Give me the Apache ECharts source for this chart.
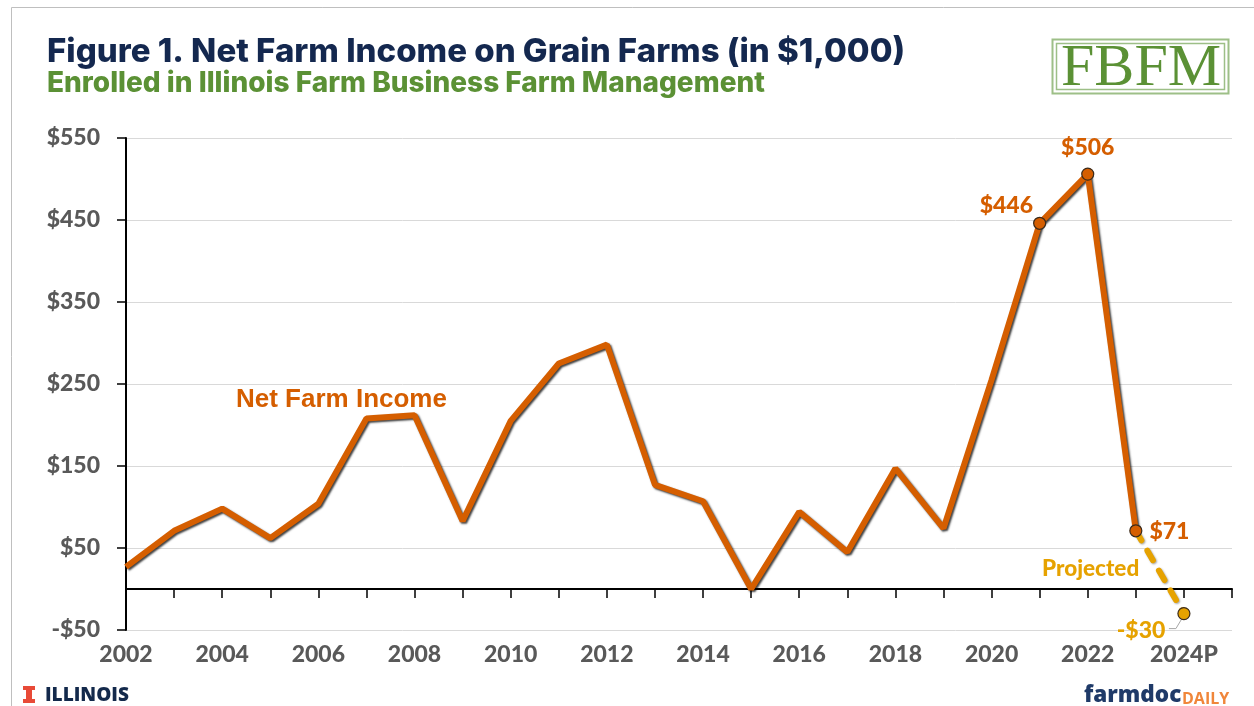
<!DOCTYPE html>
<html>
<head>
<meta charset="utf-8">
<title>Net Farm Income on Grain Farms</title>
<script src="https://cdn.jsdelivr.net/npm/echarts@6/dist/echarts.min.js"></script>
<style>
  html, body { margin: 0; padding: 0; background: #fff; }
  #chart { width: 1254px; height: 706px; }
</style>
</head>
<body>
<div id="chart"></div>
<script>
const years = ["2002","2003","2004","2005","2006","2007","2008","2009","2010","2011","2012","2013","2014","2015","2016","2017","2018","2019","2020","2021","2022","2023","2024P",""];
const netFarmIncome = [27,71,98,62,104,208,212,83,205,275,298,127,107,0,94,45,147,74,255,446,506,71,null,null];
const projected = [null,null,null,null,null,null,null,null,null,null,null,null,null,null,null,null,null,null,null,null,null,71,-30,null];
const yTicks = { min: -50, max: 550, step: 100 };

const ORANGE = "#d55e00";
const GOLD = "#e6a200";
const GREY = "#595959";
const labelFont = "Lato";
const labelWeight = 900;

// only the last few points get a marker and a label
const incomeLabels = {
  2021: { text: "$446", position: "left", offset: [5, -18] },
  2022: { text: "$506", position: "top", offset: [0, -3] },
  2023: { text: "$71", position: "right", offset: [2, 1] },
};

const incomeData = netFarmIncome.map(function (v, i) {
  const l = incomeLabels[years[i]];
  if (!l) return v;
  return {
    value: v,
    symbol: "circle",
    symbolSize: 12,
    itemStyle: { color: ORANGE, borderColor: "#3a2a1a", borderWidth: 1.2 },
    label: {
      show: true,
      formatter: l.text,
      position: l.position,
      offset: l.offset,
      color: ORANGE,
      fontFamily: labelFont,
      fontWeight: labelWeight,
      fontSize: 23,
    },
  };
});

const projectedData = projected.map(function (v, i) {
  if (years[i] !== "2024P") return v;
  return {
    value: v,
    symbol: "circle",
    symbolSize: 12,
    itemStyle: { color: GOLD, borderColor: "#3a2a1a", borderWidth: 1.2 },
    label: {
      show: true,
      formatter: "-$30",
      position: "left",
      offset: [-7, 17],
      color: GOLD,
      fontFamily: labelFont,
      fontWeight: labelWeight,
      fontSize: 23,
    },
  };
});

const chart = echarts.init(document.getElementById("chart"));
chart.setOption({
  animation: false,
  backgroundColor: "#fff",
  title: [
    {
      text: "Figure 1. Net Farm Income on Grain Farms (in $1,000)",
      left: 42,
      top: 31,
      textStyle: { color: "#14284f", fontFamily: "Inter", fontWeight: 800, fontSize: 33 },
    },
    {
      text: "Enrolled in Illinois Farm Business Farm Management",
      left: 42,
      top: 65,
      textStyle: { color: "#5b9135", fontFamily: "Inter", fontWeight: 800, fontSize: 28 },
    },
  ],
  grid: { left: 126, right: 22, top: 138, bottom: 76 },
  xAxis: {
    type: "category",
    data: years,
    boundaryGap: false,
    axisLine: { onZero: true, lineStyle: { color: "#000", width: 2 } },
    axisTick: { alignWithLabel: true, interval: 0, length: 9, lineStyle: { color: "#000", width: 1.5 } },
    axisLabel: { interval: 1, margin: 13, color: GREY, fontFamily: labelFont, fontWeight: labelWeight, fontSize: 23 },
    splitLine: { show: false },
  },
  yAxis: {
    type: "value",
    min: yTicks.min,
    max: yTicks.max,
    interval: yTicks.step,
    axisLine: { show: true, onZero: false, lineStyle: { color: "#000", width: 2 } },
    axisTick: { show: true, length: 9, lineStyle: { color: "#000", width: 1.5 } },
    axisLabel: {
      margin: 26,
      color: GREY,
      fontFamily: labelFont,
      fontWeight: labelWeight,
      fontSize: 23,
      formatter: function (v) {
        return v < 0 ? "-$" + Math.abs(v) : "$" + v;
      },
    },
    splitLine: { show: true, lineStyle: { color: "#d9d9d9", width: 1 } },
  },
  series: [
    {
      name: "Projected",
      type: "line",
      data: projectedData,
      symbol: "none",
      connectNulls: false,
      lineStyle: {
        color: GOLD,
        width: 6,
        type: [11, 12],
        cap: "round",
        shadowColor: "rgba(0,0,0,0.35)",
        shadowBlur: 2,
        shadowOffsetX: 1,
        shadowOffsetY: 1,
      },
      z: 2,
    },
    {
      name: "Net Farm Income",
      type: "line",
      data: incomeData,
      symbol: "none",
      lineStyle: {
        color: ORANGE,
        width: 6,
        shadowColor: "rgba(0,0,0,0.75)",
        shadowBlur: 2,
        shadowOffsetX: 1.5,
        shadowOffsetY: 1.5,
      },
      z: 3,
    },
  ],
  graphic: [
    // frame round the figure
    { type: "line", shape: { x1: 11.5, y1: 7.5, x2: 1254, y2: 7.5 }, style: { stroke: "#bfbfbf", lineWidth: 1 } },
    { type: "line", shape: { x1: 11.5, y1: 7.5, x2: 11.5, y2: 706 }, style: { stroke: "#bfbfbf", lineWidth: 1 } },
    // annotations
    { type: "text", left: 236, top: 387, style: { text: "Net Farm Income", fill: ORANGE, font: "bold 26px 'Liberation Sans'" } },
    { type: "text", left: 1042, top: 557, style: { text: "Projected", fill: GOLD, font: "900 22.5px Lato" } },
    // FBFM logo
    { type: "rect", shape: { x: 1052.5, y: 39.5, width: 176, height: 54 }, style: { fill: "#fff", stroke: "#9dbf87", lineWidth: 2 } },
    { type: "rect", shape: { x: 1056.5, y: 43.5, width: 168, height: 46 }, style: { fill: "none", stroke: "#9dbf87", lineWidth: 1.5 } },
    { type: "text", left: 1061, top: 39, style: { text: "FBFM", fill: "#5b9135", font: "60px 'Liberation Serif'" } },
    // Illinois mark
    { type: "rect", shape: { x: 23, y: 686, width: 12, height: 4 }, style: { fill: "#e84a37" } },
    { type: "rect", shape: { x: 26, y: 689, width: 6, height: 11 }, style: { fill: "#e84a37" } },
    { type: "rect", shape: { x: 23, y: 699, width: 12, height: 4 }, style: { fill: "#e84a37" } },
    { type: "text", left: 45, top: 686, style: { text: "ILLINOIS", fill: "#13294b", font: "800 19px 'Open Sans'" } },
    // farmdoc daily mark
    { type: "text", left: 1084, top: 684, style: { text: "farmdoc", fill: "#1f3a68", font: "800 22.5px 'Open Sans'" } },
    { type: "text", left: 1182, top: 691, style: { text: "DAILY", fill: "#f0863a", font: "bold 16px 'Open Sans'" } },
  ],
});

// leader from the 2024 point to its label, placed off the axes
const p = chart.convertToPixel({ xAxisIndex: 0, yAxisIndex: 0 }, ["2024P", -30]);
chart.setOption({
  graphic: {
    elements: [
      {
        id: "leader",
        type: "polyline",
        shape: { points: [[p[0] - 2, p[1] + 5], [p[0] - 8, p[1] + 15], [p[0] - 15, p[1] + 15]] },
        style: { fill: "none", stroke: "#a6a6a6", lineWidth: 1 },
      },
    ],
  },
});
</script>
</body>
</html>
